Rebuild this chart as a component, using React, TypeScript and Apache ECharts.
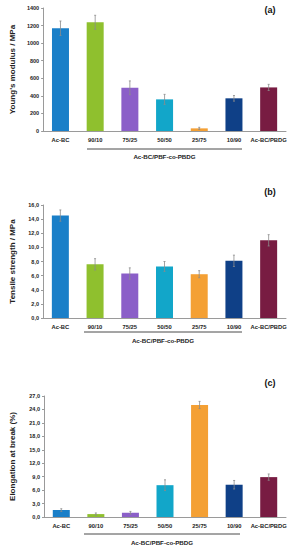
import React, { useEffect, useRef } from "react";
import * as echarts from "echarts";

const categories = ["Ac-BC", "90/10", "75/25", "50/50", "25/75", "10/90", "Ac-BC/PBDG"];
const barColors = ["#1a7fc8", "#8fc02e", "#8b5fc8", "#12a6c9", "#f4a034", "#0f4087", "#781c42"];

const modulus = [1170, 1237, 492, 360, 30, 372, 496];
const modulusErr = [82, 80, 78, 57, 12, 32, 35];
const strength = [14.5, 7.6, 6.3, 7.3, 6.2, 8.1, 11.0];
const strengthErr = [0.8, 0.8, 0.8, 0.7, 0.5, 0.8, 0.8];
const elongation = [1.55, 0.65, 0.95, 7.1, 25.0, 7.2, 8.9];
const elongationErr = [0.3, 0.25, 0.3, 1.2, 0.8, 0.95, 0.7];

const panelLetters = ["(a)", "(b)", "(c)"];
const axisTitles = ["Young's modulus / MPa", "Tensile strength / MPa", "Elongation at break (%)"];
const groupLabel = "Ac-BC/PBF-co-PBDG";
const yMax = [1400, 16, 27];
const yInterval = [200, 2, 3];
const yDecimals = [0, 1, 1];

const FONT = "'Liberation Sans', Arial, sans-serif";

export default function App() {
  const ref = useRef<HTMLDivElement>(null);
  useEffect(() => {
    if (!ref.current) return;
    const chart = echarts.init(ref.current, undefined, { renderer: "svg" });
    const grids = [
      { left: 43, top: 8, width: 243, height: 123 },
      { left: 41, top: 205, width: 245, height: 113 },
      { left: 41, top: 396, width: 245, height: 121 },
    ];
    const values = [modulus, strength, elongation];
    const errs = [modulusErr, strengthErr, elongationErr];
    const xAxis: any[] = [];
    const yAxis: any[] = [];
    const series: any[] = [];
    grids.forEach((_, i) => {
      xAxis.push({
        type: "category",
        gridIndex: i,
        data: categories,
        axisLine: { lineStyle: { color: "#9a9a9a", width: 1 } },
        axisTick: { show: false },
        axisLabel: { fontSize: 5.8, fontWeight: "bold", color: "#222", margin: 6, interval: 0, fontFamily: FONT },
      });
      yAxis.push({
        type: "value",
        gridIndex: i,
        min: 0,
        max: yMax[i],
        interval: yInterval[i],
        name: axisTitles[i],
        nameLocation: "middle",
        nameRotate: 90,
        nameGap: i === 0 ? 25 : i === 1 ? 27 : 28,
        nameTextStyle: { fontSize: 8, color: "#222", fontFamily: FONT, fontWeight: "bold" },
        splitLine: { show: false },
        axisLine: { show: true, lineStyle: { color: "#9a9a9a", width: 1 } },
        axisTick: { show: true, length: 2, lineStyle: { color: "#9a9a9a" } },
        axisLabel: {
          fontSize: 5.5,
          fontWeight: "bold",
          color: "#222",
          margin: 4,
          fontFamily: FONT,
          formatter: (v: number) => v.toFixed(yDecimals[i]).replace(".", ","),
        },
      });
      series.push({
        type: "bar",
        xAxisIndex: i,
        yAxisIndex: i,
        barWidth: 17,
        data: values[i].map((v, j) => ({ value: v, itemStyle: { color: barColors[j] } })),
      });
      series.push({
        type: "custom",
        xAxisIndex: i,
        yAxisIndex: i,
        z: 5,
        data: values[i].map((v, j) => [j, v - errs[i][j], v + errs[i][j]]),
        encode: { x: 0, y: [1, 2] },
        renderItem: (params: any, api: any) => {
          const lo = api.coord([api.value(0), api.value(1)]);
          const hi = api.coord([api.value(0), api.value(2)]);
          return {
            type: "group",
            children: [
              { type: "line", shape: { x1: lo[0], y1: lo[1], x2: hi[0], y2: hi[1] }, style: { stroke: "#8c8c8c", lineWidth: 0.8 } },
              { type: "line", shape: { x1: hi[0] - 1, y1: hi[1], x2: hi[0] + 1, y2: hi[1] }, style: { stroke: "#8c8c8c", lineWidth: 0.8 } },
              { type: "line", shape: { x1: lo[0] - 1, y1: lo[1], x2: lo[0] + 1, y2: lo[1] }, style: { stroke: "#8c8c8c", lineWidth: 0.8 } },
            ],
          };
        },
      });
    });
    const underline = [
      { x1: 87, x2: 242, y: 149, ty: 156 },
      { x1: 84, x2: 242, y: 332, ty: 340 },
      { x1: 84, x2: 240, y: 534, ty: 542 },
    ];
    const letterY = [10, 192, 383];
    const graphic: any[] = [];
    underline.forEach((u, i) => {
      graphic.push({ type: "line", shape: { x1: u.x1, y1: u.y, x2: u.x2, y2: u.y }, style: { stroke: "#4a4a4a", lineWidth: 1 } });
      graphic.push({
        type: "text",
        x: (u.x1 + u.x2) / 2,
        y: u.ty,
        style: { text: groupLabel, fontSize: 6.2, fontWeight: "bold", fill: "#222", align: "center", verticalAlign: "middle", fontFamily: FONT },
      });
      graphic.push({
        type: "text",
        x: 270,
        y: letterY[i],
        style: { text: panelLetters[i], fontSize: 9, fontWeight: "bold", fill: "#111", align: "center", verticalAlign: "middle", fontFamily: FONT },
      });
    });
    chart.setOption({
      animation: false,
      backgroundColor: "#ffffff",
      grid: grids,
      xAxis,
      yAxis,
      series,
      graphic,
    });
    return () => chart.dispose();
  }, []);
  return <div ref={ref} style={{ position: "absolute", left: 0, top: 0, width: 290, height: 550 }} />;
}
